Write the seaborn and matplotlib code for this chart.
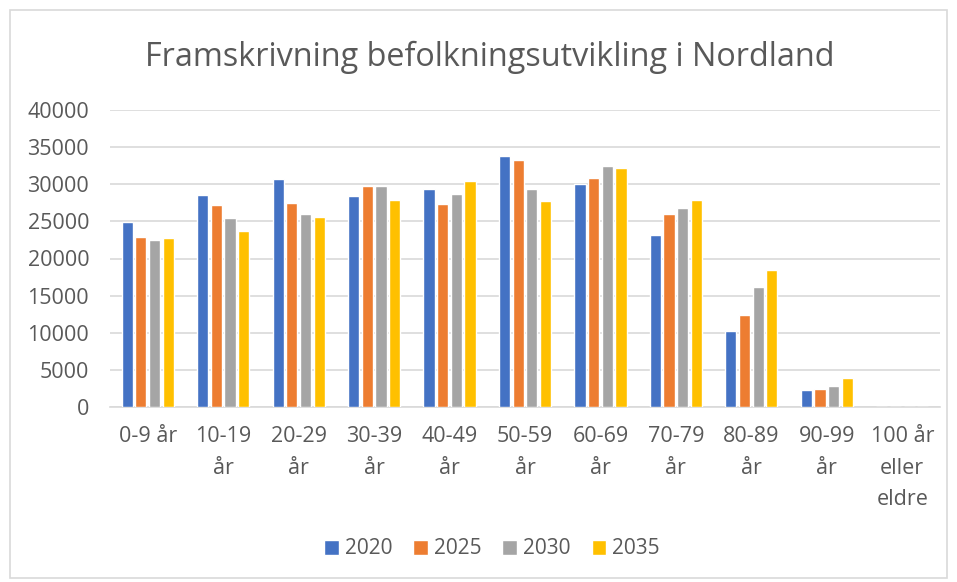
import matplotlib
matplotlib.use("Agg")
import matplotlib.pyplot as plt
import seaborn as sns
import pandas as pd
from matplotlib.patches import Rectangle

categories = ["0-9 år", "10-19\når", "20-29\når", "30-39\når", "40-49\når",
              "50-59\når", "60-69\når", "70-79\når", "80-89\når", "90-99\når",
              "100 år\neller\neldre"]
years = ["2020", "2025", "2030", "2035"]
v2020 = [24950, 28560, 30720, 28470, 29410, 33780, 30090, 23200, 10220, 2300, 0]
v2025 = [22840, 27210, 27480, 29820, 27390, 33200, 30810, 25990, 12430, 2430, 0]
v2030 = [22430, 25450, 26040, 29770, 28690, 29410, 32430, 26850, 16170, 2880, 0]
v2035 = [22790, 23740, 25540, 27840, 30400, 27700, 32160, 27840, 18510, 3920, 0]
colors = ["#4472C4", "#ED7D31", "#A5A5A5", "#FFC000"]
yticks = [0, 5000, 10000, 15000, 20000, 25000, 30000, 35000, 40000]

rows = []
for y, vals in zip(years, [v2020, v2025, v2030, v2035]):
    for c, v in zip(categories, vals):
        rows.append({"cat": c, "year": y, "value": v})
df = pd.DataFrame(rows)

sns.set_theme(style="white")
plt.rcParams["font.family"] = ["Open Sans", "DejaVu Sans"]
text_color = "#595959"

fig = plt.figure(figsize=(9.57, 5.82), dpi=100)
ax = fig.add_axes([110/957, 1-407/582, (940-110)/957, (407-110)/582])

sns.barplot(data=df, x="cat", y="value", hue="year", palette=colors,
            order=categories, hue_order=years, width=0.725, gap=0.18,
            saturation=1, ax=ax, legend=True, zorder=3)

ax.set_ylim(0, 40000)
ax.set_xlim(-0.5, len(categories) - 0.5)
ax.set_yticks(yticks)
ax.set_yticklabels([str(t) for t in yticks])
ax.yaxis.grid(True, color="#d9d9d9", linewidth=1.2, zorder=0)
ax.set_axisbelow(True)
for s in ["left", "right", "top"]:
    ax.spines[s].set_visible(False)
ax.spines["bottom"].set_color("#d9d9d9")
ax.spines["bottom"].set_linewidth(1.2)
ax.set_xlabel("")
ax.set_ylabel("")
ax.tick_params(axis="y", length=0, pad=15, labelsize=15.5, labelcolor=text_color)
ax.tick_params(axis="x", length=0, pad=14, labelsize=15.5, labelcolor=text_color)
for lab in ax.get_xticklabels():
    lab.set_linespacing(1.65)
    lab.set_verticalalignment("top")

handles, labels = ax.get_legend_handles_labels()
ax.get_legend().remove()
fig.legend(handles, labels, loc="center", bbox_to_anchor=(492/957, 1-549/582),
           ncol=4, frameon=False, fontsize=15, labelcolor=text_color,
           handlelength=0.7, handleheight=0.7, handletextpad=0.3,
           columnspacing=1.0)

fig.text(490/957, 1-57/582, "Framskrivning befolkningsutvikling i Nordland",
         ha="center", va="center", fontsize=23.3, color=text_color)

fig.patches.append(Rectangle((10/957, 1-578/582), (947-10)/957, (578-10)/582,
                             transform=fig.transFigure, fill=False,
                             edgecolor="#d9d9d9", linewidth=1.2))

fig.savefig("out.png", dpi=100)
